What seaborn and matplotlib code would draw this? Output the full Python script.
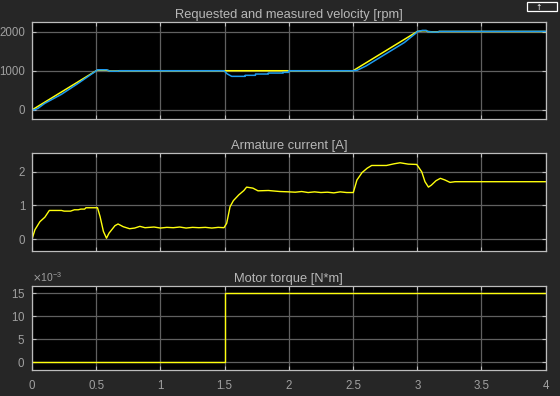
import numpy as np
import pandas as pd
import matplotlib
matplotlib.use("Agg")
import matplotlib.pyplot as plt
import seaborn as sns
from matplotlib.ticker import ScalarFormatter
from matplotlib.patches import Rectangle

# ---------------- data ----------------
titles = ["Requested and measured velocity [rpm]", "Armature current [A]", "Motor torque [N*m]"]

req_t = [0, 0.5, 0.51, 0.58, 0.6, 0.61, 0.67, 0.68, 2.5, 3.0, 3.04, 3.07, 3.08, 3.125, 3.16, 3.17, 4.0]
req_v = [0, 1000, 1015, 1015, 1000, 992, 992, 1000, 1000, 2000, 2020, 2020, 2000, 1990, 1990, 2000, 2000]

meas_t = [0, 0.02, 0.047, 0.1, 0.23, 0.36, 0.49, 0.51, 0.58, 0.6, 0.61, 0.67, 0.68,
          1.495, 1.52, 1.555, 1.66, 1.66, 1.74, 1.74, 1.84, 1.84, 1.955, 1.955, 2.0, 2.0,
          2.5, 2.53, 2.6, 2.75, 2.9, 2.99, 3.0, 3.04, 3.07, 3.08, 3.125, 3.16, 3.17, 4.0]
meas_v = [0, 5, 43, 170, 400, 680, 975, 1025, 1025, 1000, 988, 988, 1000,
          1000, 920, 857, 857, 883, 883, 916, 916, 941, 941, 959, 959, 1000,
          1000, 1010, 1120, 1420, 1720, 1960, 2000, 2028, 2028, 2000, 1985, 1985, 2003, 2003]

cur_t = [0, 0.023, 0.062, 0.1, 0.135, 0.23, 0.25, 0.3, 0.33, 0.36, 0.38, 0.41, 0.42, 0.5, 0.51,
         0.53, 0.556, 0.58, 0.6, 0.646, 0.67, 0.71, 0.76, 0.8, 0.84, 0.88, 0.95, 1.0, 1.05, 1.1,
         1.15, 1.2, 1.25, 1.3, 1.35, 1.4, 1.45, 1.495, 1.516, 1.542, 1.568, 1.61, 1.65, 1.671, 1.72,
         1.76, 1.84, 1.93, 2.0, 2.05, 2.1, 2.15, 2.2, 2.25, 2.3, 2.35, 2.4, 2.45, 2.502, 2.53,
         2.57, 2.61, 2.645, 2.76, 2.82, 2.866, 2.93, 2.996, 3.035, 3.06, 3.087, 3.11, 3.146, 3.18, 3.216,
         3.255, 3.294, 4.0]
cur_a = [0, 0.28, 0.52, 0.65, 0.85, 0.85, 0.83, 0.83, 0.87, 0.87, 0.89, 0.89, 0.93, 0.93, 0.93,
         0.67, 0.23, 0.03, 0.18, 0.40, 0.45, 0.37, 0.31, 0.33, 0.38, 0.34, 0.36, 0.33, 0.35, 0.34,
         0.36, 0.33, 0.35, 0.34, 0.35, 0.33, 0.35, 0.34, 0.47, 0.96, 1.14, 1.31, 1.44, 1.54, 1.51,
         1.43, 1.44, 1.41, 1.40, 1.39, 1.41, 1.38, 1.40, 1.38, 1.39, 1.37, 1.40, 1.38, 1.38, 1.75,
         1.97, 2.10, 2.18, 2.18, 2.23, 2.26, 2.22, 2.21, 1.99, 1.70, 1.54, 1.60, 1.73, 1.80, 1.75,
         1.68, 1.70, 1.70]

tq_t = [0, 1.5, 1.5, 4.0]
tq_v = [0, 0, 0.015, 0.015]

x_ticks = [0, 0.5, 1, 1.5, 2, 2.5, 3, 3.5, 4]
x_tick_labels = ["0", "0.5", "1", "1.5", "2", "2.5", "3", "3.5", "4"]

# ---------------- style ----------------
FIG_BG = "#262626"
TXT = "#a0a0a0"
TITLE_C = "#b8b8b8"
SPINE = "#bcbcbc"
GRID = "#606060"
YEL = "#ffff0d"
BLU = "#1e9bf0"

sns.set_style("dark", {"axes.facecolor": "black", "figure.facecolor": FIG_BG})
plt.rcParams["font.family"] = ["Liberation Sans", "DejaVu Sans"]
plt.rcParams["axes.unicode_minus"] = True

fig = plt.figure(figsize=(5.6, 3.96), dpi=100, facecolor=FIG_BG)
L, W = 32 / 560, (545.7 - 32) / 560
boxes = [(21.7, 119.0), (153.3, 250.7), (285.7, 370.3)]
axes = []
for top, bot in boxes:
    ax = fig.add_axes([L, 1 - bot / 396, W, (bot - top) / 396])
    axes.append(ax)

ax1, ax2, ax3 = axes

sns.lineplot(x=req_t, y=req_v, ax=ax1, color=YEL, lw=1.1, estimator=None, sort=False)
sns.lineplot(x=meas_t, y=meas_v, ax=ax1, color=BLU, lw=1.1, estimator=None, sort=False)
sns.lineplot(x=cur_t, y=cur_a, ax=ax2, color=YEL, lw=1.0, estimator=None, sort=False)
sns.lineplot(x=tq_t, y=tq_v, ax=ax3, color=YEL, lw=1.0, estimator=None, sort=False)

ax1.set_ylim(-230, 2250)
ax1.set_yticks([0, 1000, 2000])
ax2.set_ylim(-0.34, 2.54)
ax2.set_yticks([0, 1, 2])
ax3.set_ylim(-0.00175, 0.0167)
ax3.set_yticks([0, 0.005, 0.010, 0.015])
fmt = ScalarFormatter(useMathText=True)
fmt.set_powerlimits((-3, -3))
ax3.yaxis.set_major_formatter(fmt)

for i, ax in enumerate(axes):
    ax.set_facecolor("black")
    ax.set_xlim(0, 4)
    ax.set_xticks(x_ticks)
    ax.set_xlabel("")
    ax.set_ylabel("")
    ax.grid(True, color=GRID, lw=0.9)
    ax.set_axisbelow(True)
    for s in ax.spines.values():
        s.set_visible(True)
        s.set_color(SPINE)
        s.set_linewidth(0.9)
    ax.tick_params(direction="in", length=3, width=0.8, color=SPINE, labelcolor=TXT,
                   labelsize=8.3, top=True, right=True, bottom=True, left=True, pad=5)
    ax.tick_params(axis="x", pad=7)
    if i < 2:
        ax.set_xticklabels([])
    else:
        ax.set_xticklabels(x_tick_labels)
    ax.set_title(titles[i], color=TITLE_C, fontsize=9.3, pad=3)

ax3.yaxis.get_offset_text().set_color(TXT)
ax3.yaxis.get_offset_text().set_fontsize(7.5)

# small undock icon at top right
fig.patches.append(Rectangle((527 / 560, 1 - 11 / 396), 30 / 560, 8.5 / 396, transform=fig.transFigure,
                             fill=False, edgecolor="white", lw=0.9))
fig.text(539 / 560, 1 - 7.5 / 396, "\u2191", color="white", fontsize=5.5, ha="center", va="center",
         family="DejaVu Sans")

fig.savefig("out.png", dpi=100, facecolor=FIG_BG)
